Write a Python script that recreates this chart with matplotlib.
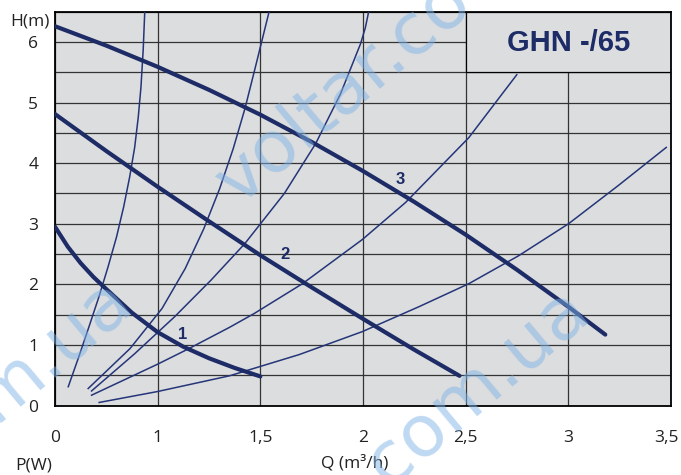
import numpy as np
import matplotlib
matplotlib.use("Agg")
import matplotlib.pyplot as plt
import matplotlib.transforms as mtransforms
from matplotlib.patches import Rectangle
from matplotlib.ticker import MultipleLocator, NullLocator

# --- data (Q in m3/h, H in m) ---
# pump curves (speeds 1, 2, 3)
q_speed1 = [0, 0.125, 0.25, 0.375, 0.5, 0.75, 1.0, 1.125, 1.25, 1.375, 1.5]
h_speed1 = [2.95, 2.62, 2.35, 2.12, 1.92, 1.53, 1.21, 0.97, 0.78, 0.62, 0.48]

q_speed2 = [0, 0.5, 1.0, 1.25, 1.5, 1.75, 2.0, 2.25, 2.47]
h_speed2 = [4.81, 4.20, 3.61, 3.04, 2.48, 1.95, 1.43, 0.92, 0.49]

q_speed3 = [0, 0.5, 1.0, 1.25, 1.5, 1.75, 2.0, 2.25, 2.5, 2.75, 3.0, 3.18]
h_speed3 = [6.26, 5.94, 5.59, 5.21, 4.80, 4.35, 3.87, 3.36, 2.82, 2.24, 1.63, 1.17]

# system curves (thin lines)
q_sys_a = [0.129, 0.231, 0.331, 0.427, 0.517, 0.599, 0.669, 0.727, 0.776,
           0.811, 0.837, 0.859, 0.874]
h_sys_a = [0.31, 0.80, 1.30, 1.79, 2.29, 2.78, 3.28, 3.77, 4.26,
           4.76, 5.25, 5.87, 6.49]

q_sys_b = [0.323, 0.731, 1.021, 1.134, 1.225, 1.302, 1.368, 1.425, 1.474, 1.542]
h_sys_b = [0.28, 0.94, 1.60, 2.26, 2.92, 3.58, 4.24, 4.90, 5.56, 6.49]

q_sys_c = [0.356, 0.773, 1.081, 1.260, 1.424, 1.617, 1.769, 1.890, 1.988,
           2.011, 2.027]
h_sys_c = [0.24, 0.85, 1.46, 2.07, 2.67, 3.50, 4.32, 5.14, 5.97, 6.23, 6.49]

q_sys_d = [0.356, 0.997, 1.147, 1.350, 1.471, 1.705, 1.997, 2.207, 2.515, 2.749]
h_sys_d = [0.17, 0.68, 0.93, 1.29, 1.52, 2.01, 2.74, 3.35, 4.42, 5.46]

q_sys_e = [0.430, 0.997, 1.350, 1.689, 1.997, 2.272, 2.515, 2.757, 3.001, 3.243, 3.477]
h_sys_e = [0.05, 0.23, 0.49, 0.84, 1.22, 1.63, 2.01, 2.47, 3.00, 3.63, 4.26]

speed_labels = ["1", "2", "3"]
speed_label_q = [1.12, 1.62, 2.18]
speed_label_h = [1.17, 2.50, 3.73]

x_ticks = [0, 1, 1.5, 2, 2.5, 3, 3.5]
x_ticklabels = ["0", "1", "1,5", "2", "2,5", "3", "3,5"]
y_ticks = [0, 1, 2, 3, 4, 5, 6]

title = "GHN -/65"

navy = "#1d2b66"
thin = "#243579"
bg = "#dcdddf"

# the Q axis is not linear: 0..1 takes the same room as each 0.5 step after it
slots = np.arange(len(x_ticks))
def fwd(q):
    return np.interp(q, x_ticks, slots, left=-1, right=7)
def inv(p):
    return np.interp(p, slots, x_ticks)

fig = plt.figure(figsize=(6.81, 4.75), dpi=100)
ax = fig.add_axes([55 / 681, 1 - 405.5 / 475, 616 / 681, 393.8 / 475])
ax.set_xscale("function", functions=(fwd, inv))
ax.set_xlim(0, 3.5)
ax.set_ylim(0, 6.5)
ax.set_facecolor(bg)

ax.set_xticks(x_ticks, labels=x_ticklabels)
ax.xaxis.set_minor_locator(NullLocator())
ax.set_yticks(y_ticks)
ax.yaxis.set_minor_locator(MultipleLocator(0.5))
ax.tick_params(which="both", length=0, labelsize=12.5, colors="#222222")
ax.tick_params(axis="x", pad=18)
ax.tick_params(axis="y", pad=12)
for lab in ax.get_xticklabels() + ax.get_yticklabels():
    lab.set_family("Open Sans")
# last Q label sits a bit left of its tick, as in the original
last = ax.get_xticklabels()[-1]
last.set_transform(last.get_transform() +
                   mtransforms.ScaledTranslation(-5 / 100, 0, fig.dpi_scale_trans))

ax.set_axisbelow(True)
ax.grid(which="both", color="#333333", linewidth=0.9)
for s in ax.spines.values():
    s.set_color("black")
    s.set_linewidth(1.3)

# title box in the top right corner
ax.add_patch(Rectangle((2.5, 5.5), 1.0, 1.0, facecolor=bg, edgecolor="black",
                       linewidth=0.9, zorder=2))
ax.text(3.0, 5.99, title, ha="center", va="center", fontsize=21,
        fontweight="bold", color=navy, family="Liberation Sans", zorder=3)

for q, h in [(q_sys_a, h_sys_a), (q_sys_b, h_sys_b), (q_sys_c, h_sys_c),
             (q_sys_d, h_sys_d), (q_sys_e, h_sys_e)]:
    ax.plot(q, h, color=thin, linewidth=1.1, zorder=3)

for q, h in [(q_speed1, h_speed1), (q_speed2, h_speed2), (q_speed3, h_speed3)]:
    ax.plot(q, h, color=navy, linewidth=3.0, solid_capstyle="round", zorder=4)

for lab, q, h in zip(speed_labels, speed_label_q, speed_label_h):
    ax.text(q, h, lab, ha="center", va="center", fontsize=12,
            fontweight="bold", color=navy, family="Liberation Sans", zorder=5)

fig.text(50 / 681, 1 - 22 / 475, "H(m)", ha="right", va="center",
         fontsize=12.5, color="#222222", family="Open Sans")
fig.text(355 / 681, 1 - 463 / 475, "Q (m³/h)", ha="center", va="center",
         fontsize=12.5, color="#222222", family="Open Sans")
fig.text(15 / 681, 1 - 458 / 475, "P(W)", ha="left", va="top",
         fontsize=12.5, color="#222222", family="Open Sans")

# site watermark (only the parts that show on the sheet)
wm_style = dict(fontsize=52, color="#7fb3e6", alpha=0.5, rotation=40,
                rotation_mode="anchor", va="baseline", family="DejaVu Sans",
                zorder=10)
fig.text(238 / 681, 1 - 206 / 475, "voltar.co", ha="left", **wm_style)
fig.text(135 / 681, 1 - 305 / 475, "m.ua", ha="right", **wm_style)
fig.text(592 / 681, 1 - 314 / 475, ".com.ua", ha="right", **wm_style)

fig.savefig("out.png", dpi=100)
